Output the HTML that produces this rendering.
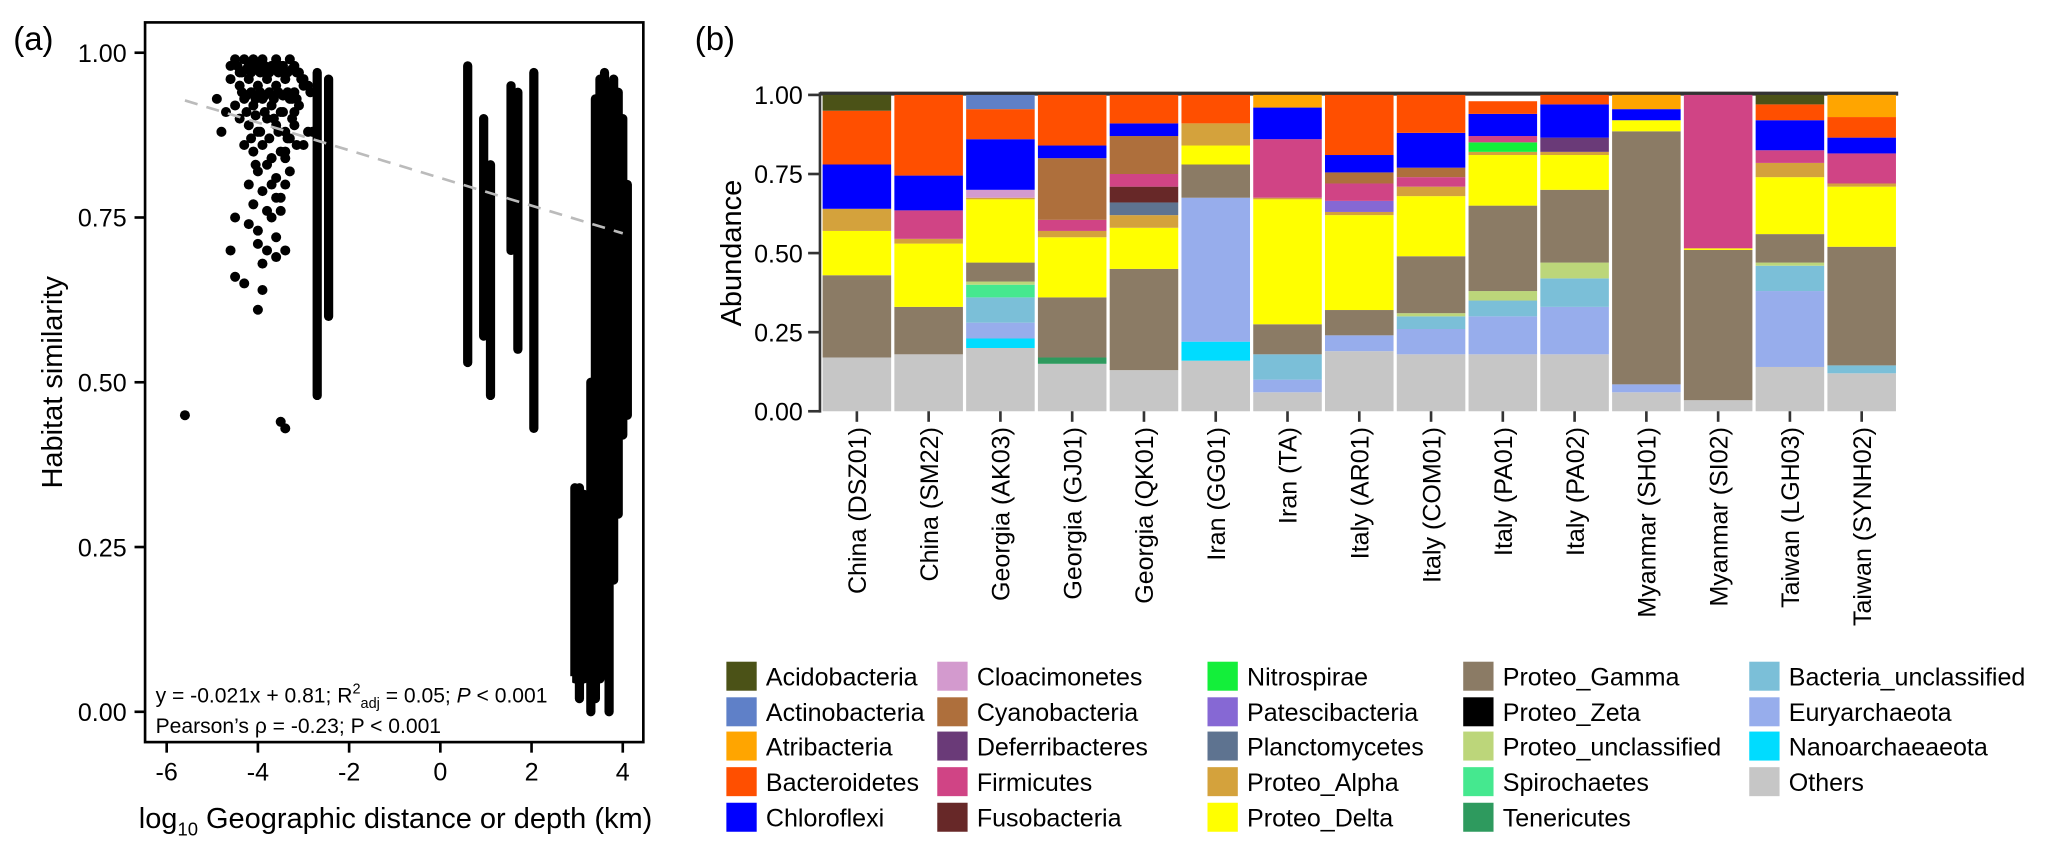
<!DOCTYPE html>
<html><head><meta charset="utf-8">
<style>
body{margin:0;background:#fff;}
svg{display:block;font-family:"Liberation Sans",Arial,sans-serif;}
</style></head>
<body>
<svg id="fig" width="2067" height="856" viewBox="0 0 1568 649.4" xmlns="http://www.w3.org/2000/svg">
<text x="10" y="38" font-size="25">(a)</text>
<text x="527" y="38" font-size="25">(b)</text>
<g id="pa"></g>
<g id="pb"></g>
</svg>
<script>
// ---------- Panel (a) data ----------
const xTicks = [-6,-4,-2,0,2,4];
const yTicksA = [0,0.25,0.5,0.75,1.0];
const yTickLabelsA = ["0.00","0.25","0.50","0.75","1.00"];
// dense vertical columns of points: [x, ymin, ymax]
const colX = [-2.7,-2.45,0.6,0.95,1.1,1.55,1.7,2.05,2.95,3.05,3.15,3.3,3.4,3.5,3.6,3.7,3.8,3.9,4.0,4.1];
const colMin = [0.48,0.60,0.53,0.57,0.48,0.70,0.55,0.43,0.05,0.02,0.05,0.0,0.02,0.05,0.08,0.0,0.2,0.3,0.42,0.45];
const colMax = [0.97,0.96,0.98,0.90,0.83,0.95,0.94,0.97,0.34,0.34,0.33,0.50,0.93,0.96,0.97,0.95,0.96,0.94,0.90,0.80];
// scattered cluster points
const ptX = [-5.6,-4.9,-4.6,-4.5,-4.4,-4.3,-4.2,-4.1,-4.0,-3.9,-3.8,-3.7,-3.6,-3.5,-3.4,-3.3,-3.2,-3.1,-3.0,-2.9,-2.85,
 -4.6,-4.4,-4.2,-4.0,-3.8,-3.6,-3.4,-3.2,-3.0,-4.5,-4.3,-4.1,-3.9,-3.7,-3.5,-3.3,-3.1,-4.4,-4.2,-4.0,-3.8,-3.6,-3.4,-3.2,
 -4.3,-4.1,-3.9,-3.7,-3.5,-3.3,-4.0,-3.8,-3.6,-3.4,-4.2,-3.9,-3.7,-3.5,-3.3,-4.1,-3.8,-3.6,-3.4,-4.5,-4.2,-4.0,-3.7,-3.5,
 -4.0,-3.8,-3.6,-4.6,-3.9,-3.6,-3.4,-4.3,-4.5,-3.9,-4.0,-3.5,-3.4,-2.8,-3.0,-4.8,-4.7,-3.2,-2.9,
 -4.45,-4.35,-4.25,-4.15,-4.05,-3.95,-3.85,-3.75,-3.65,-3.55,-3.45,-3.35,-3.25,-3.15,-3.05,
 -4.35,-4.25,-4.15,-4.05,-3.95,-3.85,-3.75,-3.65,-3.55,-3.45,-3.35,-3.25,-3.15,
 -4.25,-4.05,-3.85,-3.65,-3.45,-3.25,-4.15,-3.95,-3.75,-3.55,-3.35,-3.15,-4.05,-3.7,-3.4];
const ptY = [0.45,0.93,0.98,0.99,0.97,0.99,0.98,0.99,0.98,0.99,0.97,0.98,0.99,0.98,0.97,0.99,0.98,0.97,0.96,0.95,0.94,
 0.96,0.95,0.96,0.95,0.96,0.95,0.96,0.94,0.95,0.92,0.93,0.92,0.93,0.92,0.91,0.93,0.92,0.90,0.89,0.88,0.90,0.89,0.88,0.89,
 0.86,0.85,0.86,0.84,0.85,0.87,0.82,0.83,0.81,0.84,0.80,0.79,0.80,0.78,0.82,0.77,0.76,0.78,0.80,0.75,0.74,0.73,0.75,0.76,
 0.71,0.70,0.72,0.70,0.68,0.69,0.70,0.65,0.66,0.64,0.61,0.44,0.43,0.88,0.86,0.88,0.91,0.91,0.88,
 0.98,0.97,0.975,0.97,0.975,0.97,0.98,0.97,0.975,0.97,0.98,0.97,0.975,0.97,0.96,
 0.94,0.935,0.94,0.93,0.94,0.935,0.94,0.93,0.94,0.935,0.94,0.93,0.93,
 0.91,0.905,0.91,0.90,0.91,0.90,0.87,0.88,0.87,0.88,0.87,0.86,0.83,0.84,0.85];

// ---------- Panel (b) data ----------
const sites = ["China (DSZ01)","China (SM22)","Georgia (AK03)","Georgia (GJ01)","Georgia (QK01)","Iran (GG01)","Iran (TA)","Italy (AR01)","Italy (COM01)","Italy (PA01)","Italy (PA02)","Myanmar (SH01)","Myanmar (SI02)","Taiwan (LGH03)","Taiwan (SYNH02)"];
const taxa = ["Others","Nanoarchaeaeota","Euryarchaeota","Bacteria_unclassified","Tenericutes","Spirochaetes","Proteo_unclassified","Proteo_Zeta","Proteo_Gamma","Proteo_Delta","Proteo_Alpha","Planctomycetes","Patescibacteria","Nitrospirae","Fusobacteria","Firmicutes","Deferribacteres","Cyanobacteria","Cloacimonetes","Chloroflexi","Bacteroidetes","Atribacteria","Actinobacteria","Acidobacteria"];
const taxaColors = {"Acidobacteria":"#4b5217","Actinobacteria":"#5f80c8","Atribacteria":"#ffa500","Bacteroidetes":"#ff4f00","Chloroflexi":"#0000ff","Cloacimonetes":"#d39ace","Cyanobacteria":"#ae6f3c","Deferribacteres":"#6a3a78","Firmicutes":"#d04485","Fusobacteria":"#672828","Nitrospirae":"#13ef3a","Patescibacteria":"#8668d4","Planctomycetes":"#5e7390","Proteo_Alpha":"#d4a23c","Proteo_Delta":"#ffff00","Proteo_Gamma":"#8b7b65","Proteo_Zeta":"#000000","Proteo_unclassified":"#bcd67a","Spirochaetes":"#45e88f","Tenericutes":"#2e9a5e","Bacteria_unclassified":"#7bbfd8","Euryarchaeota":"#97adec","Nanoarchaeaeota":"#00dcff","Others":"#c6c6c6"};
const legendOrder = ["Acidobacteria","Actinobacteria","Atribacteria","Bacteroidetes","Chloroflexi","Cloacimonetes","Cyanobacteria","Deferribacteres","Firmicutes","Fusobacteria","Nitrospirae","Patescibacteria","Planctomycetes","Proteo_Alpha","Proteo_Delta","Proteo_Gamma","Proteo_Zeta","Proteo_unclassified","Spirochaetes","Tenericutes","Bacteria_unclassified","Euryarchaeota","Nanoarchaeaeota","Others"];
const abund = [
 {Others:.17,Proteo_Gamma:.26,Proteo_Delta:.14,Proteo_Alpha:.07,Chloroflexi:.14,Bacteroidetes:.17,Acidobacteria:.05},
 {Others:.18,Proteo_Gamma:.15,Proteo_Delta:.20,Proteo_Alpha:.015,Firmicutes:.09,Chloroflexi:.11,Bacteroidetes:.255},
 {Others:.20,Nanoarchaeaeota:.03,Euryarchaeota:.05,Bacteria_unclassified:.08,Spirochaetes:.04,Proteo_unclassified:.01,Proteo_Gamma:.06,Proteo_Delta:.20,Proteo_Alpha:.005,Cloacimonetes:.025,Chloroflexi:.16,Bacteroidetes:.095,Actinobacteria:.045},
 {Others:.15,Tenericutes:.02,Proteo_Gamma:.19,Proteo_Delta:.19,Proteo_Alpha:.02,Firmicutes:.035,Cyanobacteria:.195,Chloroflexi:.04,Bacteroidetes:.16},
 {Others:.13,Proteo_Gamma:.32,Proteo_Delta:.13,Proteo_Alpha:.04,Planctomycetes:.04,Fusobacteria:.05,Firmicutes:.04,Cyanobacteria:.12,Chloroflexi:.04,Bacteroidetes:.09},
 {Others:.16,Nanoarchaeaeota:.06,Euryarchaeota:.455,Proteo_Gamma:.105,Proteo_Delta:.06,Proteo_Alpha:.07,Bacteroidetes:.09},
 {Others:.06,Euryarchaeota:.04,Bacteria_unclassified:.08,Proteo_Gamma:.095,Proteo_Delta:.395,Proteo_Alpha:.005,Firmicutes:.185,Chloroflexi:.10,Atribacteria:.04},
 {Others:.19,Euryarchaeota:.05,Proteo_Gamma:.08,Proteo_Delta:.30,Proteo_Alpha:.01,Patescibacteria:.035,Firmicutes:.055,Cyanobacteria:.035,Chloroflexi:.055,Bacteroidetes:.19},
 {Others:.18,Euryarchaeota:.08,Bacteria_unclassified:.04,Proteo_unclassified:.01,Proteo_Gamma:.18,Proteo_Delta:.19,Proteo_Alpha:.03,Firmicutes:.03,Cyanobacteria:.03,Chloroflexi:.11,Bacteroidetes:.12},
 {Others:.18,Euryarchaeota:.12,Bacteria_unclassified:.05,Proteo_unclassified:.03,Proteo_Gamma:.27,Proteo_Delta:.16,Proteo_Alpha:.01,Nitrospirae:.03,Firmicutes:.02,Chloroflexi:.07,Bacteroidetes:.04},
 {Others:.18,Euryarchaeota:.15,Bacteria_unclassified:.09,Proteo_unclassified:.05,Proteo_Gamma:.23,Proteo_Delta:.11,Proteo_Alpha:.01,Deferribacteres:.045,Chloroflexi:.105,Bacteroidetes:.03},
 {Others:.06,Euryarchaeota:.025,Proteo_Gamma:.80,Proteo_Delta:.035,Chloroflexi:.035,Atribacteria:.045},
 {Others:.035,Proteo_Gamma:.475,Proteo_Delta:.005,Firmicutes:.485},
 {Others:.14,Euryarchaeota:.24,Bacteria_unclassified:.08,Proteo_unclassified:.01,Proteo_Gamma:.09,Proteo_Delta:.18,Proteo_Alpha:.045,Firmicutes:.04,Chloroflexi:.095,Bacteroidetes:.05,Acidobacteria:.03},
 {Others:.12,Bacteria_unclassified:.025,Proteo_Gamma:.375,Proteo_Delta:.19,Proteo_Alpha:.01,Firmicutes:.095,Chloroflexi:.05,Bacteroidetes:.065,Atribacteria:.07}
];
const yTicksB = [0,0.25,0.5,0.75,1.0];
const yTickLabelsB = ["0.00","0.25","0.50","0.75","1.00"];

const NS="http://www.w3.org/2000/svg";
function mk(tag,attrs,parent,txt){const e=document.createElementNS(NS,tag);for(const k in attrs)e.setAttribute(k,attrs[k]);if(txt!==undefined)e.textContent=txt;parent.appendChild(e);return e;}

// ----- Panel a -----
const pa=document.getElementById('pa');
const ax=v=>334+v*34.6, ay=v=>540-v*500;
let e;
e=mk('rect',{x:110,y:17,width:378,height:546,fill:'none',stroke:'#000','stroke-width':2},pa);


xTicks.forEach(t=>{
 e=mk('line',{x1:ax(t),x2:ax(t),y1:563,y2:571,stroke:'#000','stroke-width':2},pa);
 
 
 e=mk('text',{x:ax(t),y:592,'font-size':19,'text-anchor':'middle'},pa,t<0?'-'+(-t):String(t));
 
 
});
yTicksA.forEach((t,i)=>{
 e=mk('line',{x1:102,x2:110,y1:ay(t),y2:ay(t),stroke:'#000','stroke-width':2},pa);
 
 
 e=mk('text',{x:96,y:ay(t)+7,'font-size':19,'text-anchor':'end'},pa,yTickLabelsA[i]);
 
 
});
e=mk('text',{x:0,y:0,'font-size':22,'text-anchor':'middle',transform:'translate(47,290) rotate(-90)'},pa,'Habitat similarity');


e=mk('text',{x:300,y:628,'font-size':22,'text-anchor':'middle'},pa);


e.innerHTML='log<tspan font-size="14" dy="6">10</tspan><tspan dy="-6"> Geographic distance or depth (km)</tspan>';
colX.forEach((x,i)=>{
 e=mk('line',{x1:ax(x),x2:ax(x),y1:ay(colMin[i]),y2:ay(colMax[i]),stroke:'#000','stroke-width':7,'stroke-linecap':'round'},pa);
 
 
});
ptX.forEach((x,i)=>{
 e=mk('circle',{cx:ax(x),cy:ay(ptY[i]),r:3.8,fill:'#000'},pa);
 
 
});
e=mk('line',{x1:ax(-5.6),y1:ay(-0.021*-5.6+0.81),x2:ax(4),y2:ay(-0.021*4+0.81),stroke:'#bbb','stroke-width':2,'stroke-dasharray':'10,7'},pa);


e=mk('rect',{x:114,y:513,width:320,height:48,fill:'#fff'},pa);


e=mk('text',{x:118,y:533,'font-size':16},pa);


e.innerHTML='y =  -0.021x + 0.81; R<tspan font-size="11" dy="-7">2</tspan><tspan font-size="11" dy="11">adj</tspan><tspan dy="-4"> = 0.05; </tspan><tspan font-style="italic">P</tspan> &lt; 0.001';
e=mk('text',{x:118,y:556,'font-size':16},pa,'Pearson\u2019s \u03c1 = -0.23; P < 0.001');



// ----- Panel b -----
const pb=document.getElementById('pb');
const by=v=>312-v*240;
const bx0=624, step=54.45, bw=52;
e=mk('line',{x1:622,x2:1440,y1:71,y2:71,stroke:'#333','stroke-width':3},pb);


e=mk('line',{x1:622,x2:622,y1:70,y2:313,stroke:'#333','stroke-width':2},pb);


yTicksB.forEach((t,i)=>{
 e=mk('line',{x1:613,x2:622,y1:by(t),y2:by(t),stroke:'#333','stroke-width':2},pb);
 
 
 e=mk('text',{x:609,y:by(t)+7,'font-size':19,'text-anchor':'end'},pb,yTickLabelsB[i]);
 
 
});
e=mk('text',{x:0,y:0,'font-size':22,'text-anchor':'middle',transform:'translate(562,192) rotate(-90)'},pb,'Abundance');


sites.forEach((s,i)=>{
 const x=bx0+i*step;
 let cum=0;
 taxa.forEach(tx=>{
  const v=abund[i][tx]||0; if(!v) return;
  e=mk('rect',{x:x,y:by(cum+v),width:bw,height:by(cum)-by(cum+v),fill:taxaColors[tx]},pb);
  
  
  cum+=v;
 });
 const cx=x+bw/2;
 e=mk('line',{x1:cx,x2:cx,y1:312,y2:320,stroke:'#333','stroke-width':2},pb);
 
 
 e=mk('text',{x:0,y:0,'font-size':19,'text-anchor':'end',transform:`translate(${cx+7},324) rotate(-90)`},pb,s);
 
 
});
const legCols=[551,711,916,1110,1327], legRows=[513,540,566,593,620];
legendOrder.forEach((tx,i)=>{
 const c=Math.floor(i/5), r=i%5;
 const g=mk('g',{},pb);
 
 
 mk('rect',{x:legCols[c],y:legRows[r]-11,width:23,height:22,fill:taxaColors[tx]},g);
 mk('text',{x:legCols[c]+30,y:legRows[r]+7,'font-size':19},g,tx);
});
</script>
</body></html>
